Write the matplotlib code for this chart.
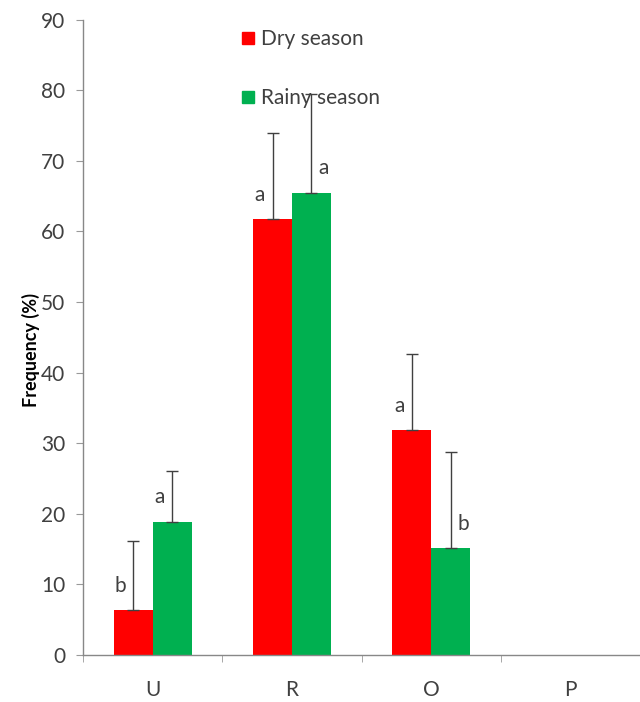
import numpy as np
import matplotlib.pyplot as plt
from matplotlib.lines import Line2D

# Datos
categorias = ['U', 'R', 'O', 'P']
seco = [6.4, 61.7, 31.8, 0.0]
seco_err = [9.8, 12.3, 10.9, 0.0]
lluvia = [18.9, 65.5, 15.2, 0.0]
lluvia_err = [7.1, 14.0, 13.6, 0.0]
letras_seco = ['b', 'a', 'a', '']
letras_lluvia = ['a', 'a', 'b', '']

plt.rcParams['font.family'] = ['Lato', 'DejaVu Sans']
gris = '#404040'

fig = plt.figure(figsize=(6.4, 7.02), dpi=100)
ax = fig.add_axes([0.130, 0.067, 0.870, 0.905])

x = np.arange(len(categorias))
w = 0.28
ax.bar(x - w/2, seco, w, color='#ff0000', zorder=2)
ax.bar(x + w/2, lluvia, w, color='#00b050', zorder=2)

# barras de error solo hacia arriba
for xi, v, e in zip(x - w/2, seco, seco_err):
    if e > 0:
        ax.errorbar(xi, v, yerr=[[0], [e]], color=gris, lw=1, capsize=4, capthick=1, zorder=3)
for xi, v, e in zip(x + w/2, lluvia, lluvia_err):
    if e > 0:
        ax.errorbar(xi, v, yerr=[[0], [e]], color=gris, lw=1, capsize=4, capthick=1, zorder=3)

# letras de significancia (lado respecto a la barra de error)
lado_seco = [-1, -1, -1, -1]
lado_lluvia = [-1, 1, 1, -1]
for xi, v, l, s in zip(x - w/2, seco, letras_seco, lado_seco):
    ax.text(xi + s*0.09, v + 2.0, l, ha='center', va='bottom', fontsize=15, color=gris)
for xi, v, l, s in zip(x + w/2, lluvia, letras_lluvia, lado_lluvia):
    ax.text(xi + s*0.09, v + 2.0, l, ha='center', va='bottom', fontsize=15, color=gris)

ax.set_xlim(-0.5, 3.5)
ax.set_ylim(0, 90)
ax.set_yticks(range(0, 91, 10))
ax.set_xticks(x)
ax.set_xticklabels(categorias)
ax.set_xticks(np.arange(-0.5, 3.0, 1.0), minor=True)
ax.tick_params(axis='x', which='major', length=0, pad=18, labelsize=15, labelcolor=gris)
ax.tick_params(axis='x', which='minor', length=5, color='#999999', direction='out')
ax.tick_params(axis='y', length=5, color='#999999', labelsize=15, labelcolor=gris, pad=8)

for s in ['top', 'right']:
    ax.spines[s].set_visible(False)
for s in ['left', 'bottom']:
    ax.spines[s].set_color('#888888')
    ax.spines[s].set_linewidth(1)

ax.set_ylabel('Frequency (%)', fontsize=13, fontweight='bold', color='black')
ax.yaxis.set_label_coords(-0.078, 0.48)

h = [Line2D([], [], marker='s', ls='', color='#ff0000', markersize=9),
     Line2D([], [], marker='s', ls='', color='#00b050', markersize=9)]
ax.legend(h, ['Dry season', 'Rainy season'], loc='upper left', bbox_to_anchor=(0.245, 1.015),
          frameon=False, fontsize=15, labelspacing=1.9, handletextpad=0.2, handlelength=0.9,
          labelcolor=gris)

fig.savefig('out.png', dpi=100)
